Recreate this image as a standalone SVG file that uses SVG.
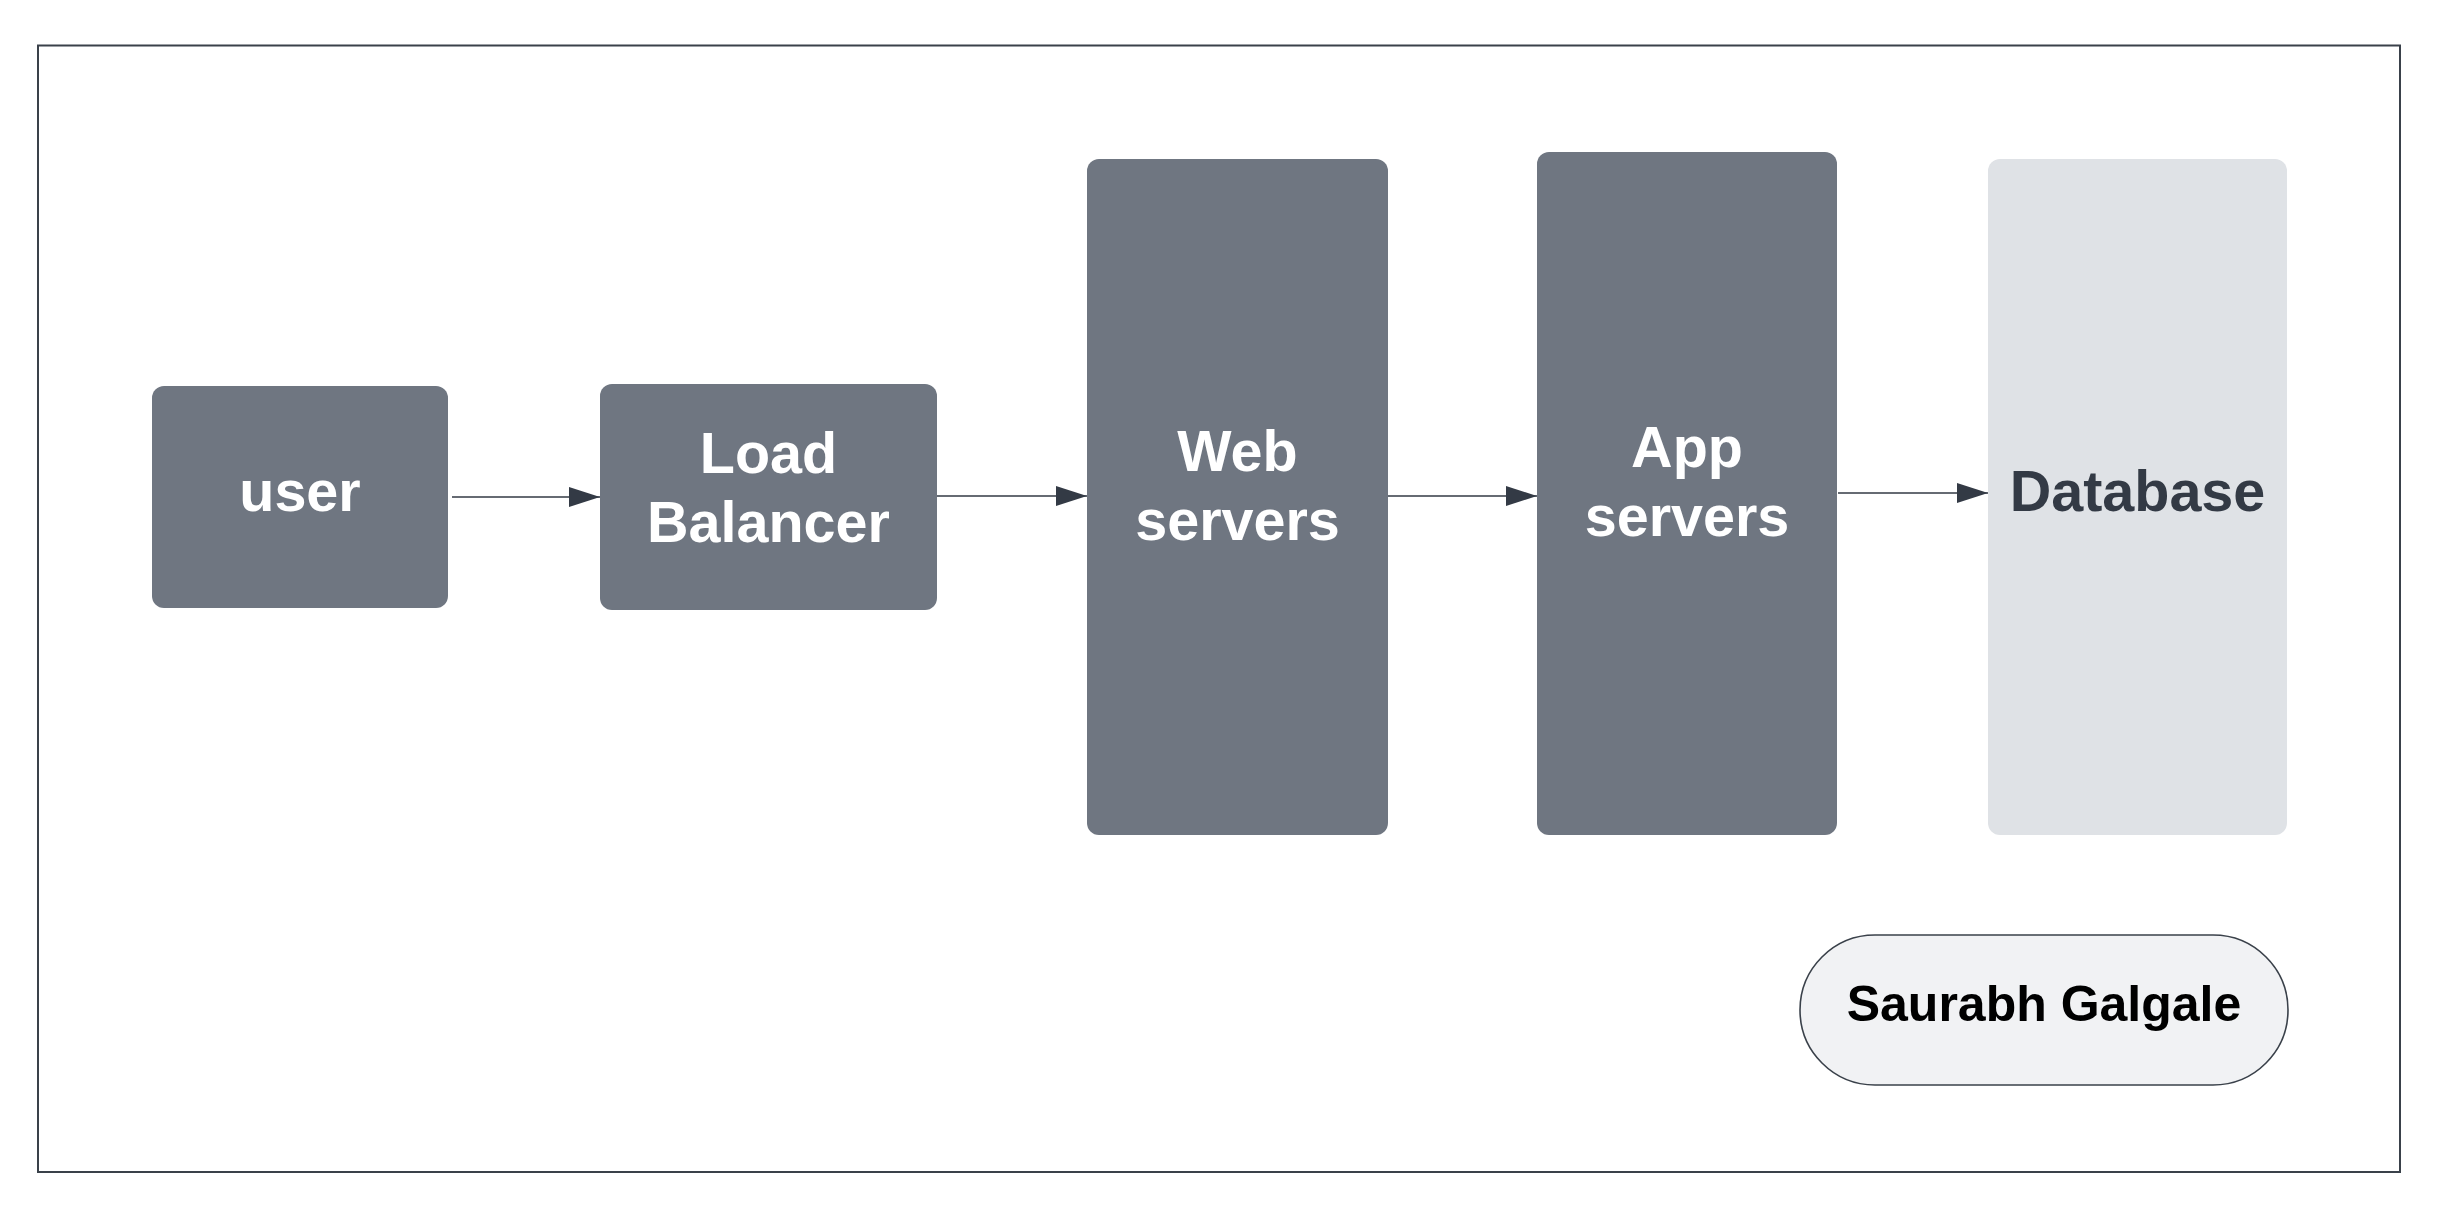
<svg xmlns="http://www.w3.org/2000/svg" width="2443" height="1215" viewBox="0 0 2443 1215">
<style>
.box{fill:#6f7681}
.lbl{font-family:"Liberation Sans",Arial,sans-serif;font-weight:bold;font-size:57.5px;fill:#ffffff;text-anchor:middle}
.dark{fill:#333a45}
.conn{stroke:#333a45;stroke-width:1.4;fill:none}
</style>
<defs>
<marker id="ah" markerUnits="userSpaceOnUse" markerWidth="32" markerHeight="20" refX="31" refY="10" orient="auto">
<path d="M0,0 L31,10 L0,20 Z" fill="#333a45"/>
</marker>
</defs>
<rect x="0" y="0" width="2443" height="1215" fill="#ffffff"/>
<rect id="frame" x="38" y="45.5" width="2362" height="1126.5" fill="#ffffff" stroke="#3a414a" stroke-width="2"/>
<g id="connectors">
<line class="conn" x1="452" y1="497" x2="600" y2="497" marker-end="url(#ah)"/>
<line class="conn" x1="937" y1="496" x2="1087" y2="496" marker-end="url(#ah)"/>
<line class="conn" x1="1388" y1="496" x2="1537" y2="496" marker-end="url(#ah)"/>
<line class="conn" x1="1838" y1="493" x2="1988" y2="493" marker-end="url(#ah)"/>
</g>
<g id="user">
<rect class="box" x="152" y="386" width="296" height="222" rx="12"/>
<text class="lbl" x="300" y="511">user</text>
</g>
<g id="load-balancer">
<rect class="box" x="600" y="384" width="337" height="226" rx="12"/>
<text class="lbl" x="768.5" y="473">Load</text>
<text class="lbl" x="768.5" y="542">Balancer</text>
</g>
<g id="web-servers">
<rect class="box" x="1087" y="159" width="301" height="676" rx="12"/>
<text class="lbl" x="1237.5" y="471">Web</text>
<text class="lbl" x="1237.5" y="540">servers</text>
</g>
<g id="app-servers">
<rect class="box" x="1537" y="152" width="300" height="683" rx="12"/>
<text class="lbl" x="1687" y="467">App</text>
<text class="lbl" x="1687" y="536">servers</text>
</g>
<g id="database">
<rect x="1988" y="159" width="299" height="676" rx="12" fill="#dfe2e6"/>
<text class="lbl dark" x="2137.5" y="511">Database</text>
</g>
<g id="author">
<rect x="1800" y="935" width="488" height="150" rx="75" fill="#f1f2f4" stroke="#3a414a" stroke-width="1.6"/>
<text class="lbl" x="2044" y="1021" style="font-size:50px;fill:#000000">Saurabh Galgale</text>
</g>
</svg>
